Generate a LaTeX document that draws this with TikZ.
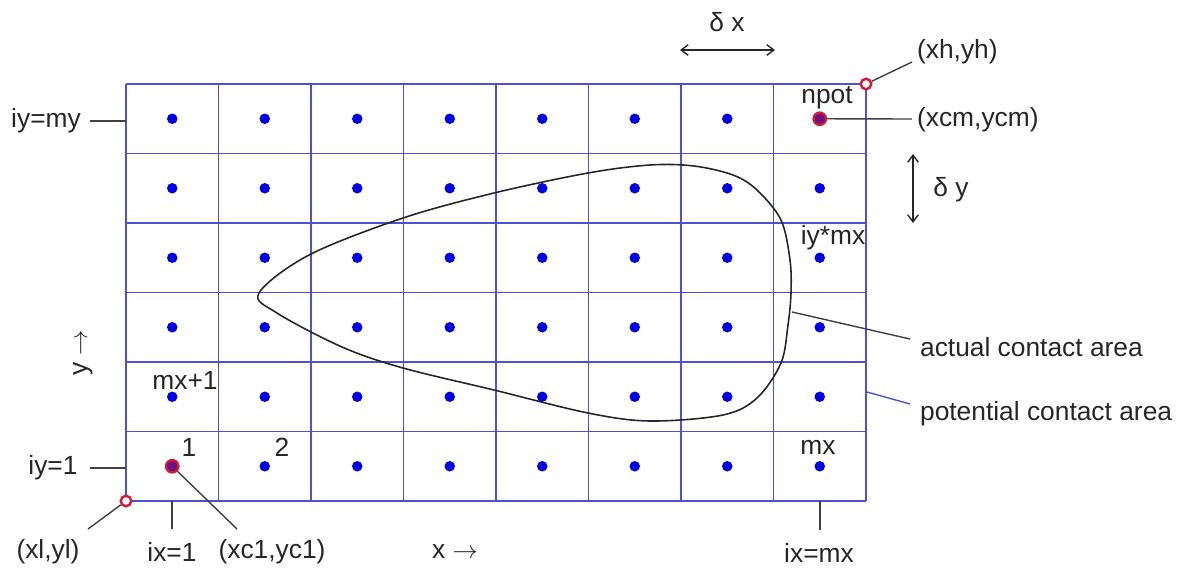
\documentclass[tikz,border=0pt]{standalone}
\usepackage{fontspec}
\setmainfont{Liberation Sans}
\usetikzlibrary{positioning,arrows.meta}
\definecolor{gridblue}{RGB}{80,80,210}
\definecolor{dotblue}{RGB}{0,0,225}
\definecolor{markred}{RGB}{205,30,55}
\tikzset{
  cell/.style={
    draw = gridblue,
    line width = 0.9pt
  },
  centre/.style={
    inner sep = 0pt,
    minimum size = 0.21cm,
    shape = circle,
    fill = dotblue
  },
  pick/.style={
    inner sep = 0pt,
    minimum size = 0.25cm,
    shape = circle,
    draw = markred,
    line width = 1.3pt,
    fill = markred!55!dotblue
  },
  ring/.style={
    inner sep = 0pt,
    minimum size = 0.21cm,
    shape = circle,
    draw = markred,
    line width = 1.4pt,
    fill = white
  },
  leader/.style={
    draw = black!75,
    line width = 0.8pt
  },
  dim/.style={
    draw = black!85,
    line width = 0.8pt,
    {Straight Barb[length=4pt,width=6pt]}-{Straight Barb[length=4pt,width=6pt]}
  },
  txt/.style={
    font = \fontsize{15}{18}\selectfont,
    text = black!85,
    inner sep = 1pt
  },
  every picture/.style = {
    baseline={([yshift=-.5ex]current bounding box.center)}
  }
}

\begin{document}
\begin{tikzpicture}[x=0.02cm, y=-0.02cm]
    \useasboundingbox (0,0) rectangle (1181,569);

    % potential contact area: 8 x 6 cells
    \coordinate (lo) at (126,501);
    \coordinate (hi) at (866,84);
    \foreach \k in {0,...,8}
        \draw[cell] (126+92.5*\k,84) -- (126+92.5*\k,501);
    \foreach \k in {0,...,6}
        \draw[cell] (126,84+69.5*\k) -- (866,84+69.5*\k);

    \foreach \i in {1,...,8}
        \foreach \j in {1,...,6}
            \node[centre] (c-\i-\j) at (126+92.5*\i-46.25, 501-69.5*\j+34.75) {};

    % actual contact area
    \draw[line width=0.9pt, black!85] plot[smooth cycle, tension=0.55] coordinates {
        (259,293) (309,255) (403,218) (494,193) (588,173) (650,165) (694,166)
        (733,175) (757,190) (781,220) (790,260) (791,293) (788,325) (781,363)
        (757,398) (723,415) (650,421) (588,413) (494,390) (403,368) (342,347) (277,313)};

    \node[pick] (pick1) at (c-1-1) {};
    \node[pick] (pickm) at (c-8-6) {};
    \node[ring] (ringl) at (lo) {};
    \node[ring] (ringh) at (hi) {};

    % cell numbers
    \node[txt] (n-1) at (189,447) {1};
    \node[txt] (n-2) at (282,447) {2};
    \node[txt] (n-mx1) at (185,380) {mx+1};
    \node[txt] (n-mx) at (818,447) {mx};
    \node[txt] (n-iymx) at (833,238) {iy*mx};
    \node[txt] (n-npot) at (827,98) {npot};

    % row and column labels
    \node[txt] (lab-my) at (46,121) {iy=my};
    \node[txt] (lab-y1) at (53,468) {iy=1};
    \node[txt] (lab-x1) at (172,552) {ix=1};
    \node[txt] (lab-xm) at (819,553) {ix=mx};
    \coordinate (t-my) at (90,121);
    \coordinate (t-y1) at (90,468);
    \coordinate (t-x1) at (172,529);
    \coordinate (t-xm) at (820,530);
    \draw[leader] (t-my) -- (t-my -| lo);
    \draw[leader] (t-y1) -- (t-y1 -| lo);
    \draw[leader] (t-x1) -- (t-x1 |- lo);
    \draw[leader] (t-xm) -- (t-xm |- lo);

    \node[txt, rotate=90] (lab-y) at (83,353) {y $\rightarrow$};
    \node[txt] (lab-x) at (455,552) {x $\rightarrow$};

    % corner and centre points
    \node[txt] (lab-l) at (48,552) {(xl,yl)};
    \node[txt] (lab-c1) at (272,552) {(xc1,yc1)};
    \node[txt, anchor=west] (lab-h) at (915,52) {(xh,yh)};
    \node[txt, anchor=west] (lab-cm) at (915,120) {(xcm,ycm)};
    \coordinate (to-l) at (88,529);
    \coordinate (to-c1) at (237,529);
    \coordinate (to-h) at (912,62);
    \coordinate (to-cm) at (912,119);
    \draw[leader] (ringl) -- (to-l);
    \draw[leader] (pick1) -- (to-c1);
    \draw[leader] (ringh) -- (to-h);
    \draw[leader] (pickm) -- (to-cm);

    % cell size
    \node[txt] (lab-dx) at (727,22) {δ x};
    \coordinate (dx-l) at (680,50);
    \coordinate (dx-r) at (775,50);
    \draw[dim] (dx-l) -- (dx-r);
    \node[txt] (lab-dy) at (951,190) {δ y};
    \coordinate (dy-t) at (913,154);
    \coordinate (dy-b) at (913,223);
    \draw[dim] (dy-t) -- (dy-b);

    % areas
    \node[txt, anchor=west] (lab-act) at (918,347) {actual contact area};
    \node[txt, anchor=west] (lab-pot) at (918,414) {potential contact area};
    \coordinate (on-act) at (792,312);
    \coordinate (on-pot) at (867,392);
    \coordinate (to-act) at (910,339);
    \coordinate (to-pot) at (910,404);
    \draw[leader] (on-act) -- (to-act);
    \draw[leader, draw=gridblue] (on-pot) -- (to-pot);
\end{tikzpicture}
\end{document}
